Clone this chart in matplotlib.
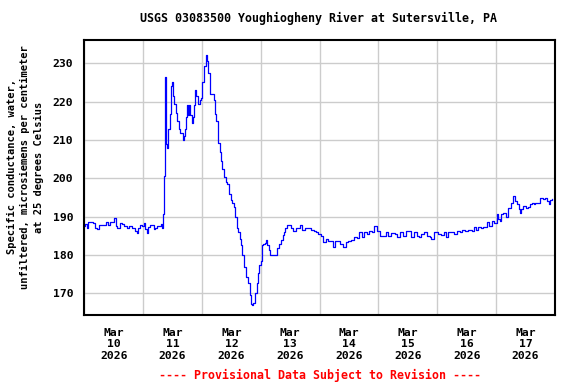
import numpy as np
import pandas as pd
import matplotlib
matplotlib.use('Agg')
import matplotlib.pyplot as plt
import matplotlib.dates as mdates

# days since 2026-03-10 00:00
days = [0.000, 0.012, 0.040, 0.070, 0.097, 0.140, 0.183, 0.211, 0.250, 0.296,
        0.330, 0.370, 0.400, 0.439, 0.480, 0.512, 0.540, 0.563, 0.600, 0.638,
        0.680, 0.723, 0.760, 0.809, 0.840, 0.865, 0.894, 0.920, 0.951, 0.980,
        1.007, 1.036, 1.065, 1.090, 1.110, 1.150, 1.177, 1.206, 1.240, 1.280,
        1.303, 1.321, 1.338, 1.348, 1.365, 1.382, 1.394, 1.406, 1.417, 1.440,
        1.451, 1.468, 1.485, 1.508, 1.531, 1.555, 1.576, 1.605, 1.633, 1.672,
        1.690, 1.706, 1.725, 1.741, 1.760, 1.781, 1.800, 1.826, 1.850, 1.872,
        1.889, 1.900, 1.920, 1.940, 1.960, 1.980, 1.997, 2.037, 2.065, 2.085,
        2.105, 2.133, 2.170, 2.201, 2.213, 2.240, 2.270, 2.300, 2.316, 2.333,
        2.372, 2.406, 2.430, 2.457, 2.486, 2.515, 2.543, 2.560, 2.589, 2.615,
        2.640, 2.657, 2.679, 2.713, 2.747, 2.776, 2.811, 2.833, 2.857, 2.874,
        2.901, 2.930, 2.952, 2.976, 3.000, 3.020, 3.044, 3.070, 3.089, 3.110,
        3.135, 3.157, 3.200, 3.237, 3.283, 3.317, 3.340, 3.369, 3.390, 3.413,
        3.437, 3.488, 3.515, 3.544, 3.600, 3.659, 3.700, 3.750, 3.795, 3.852,
        3.900, 3.937, 3.980, 4.022, 4.051, 4.100, 4.136, 4.193, 4.222, 4.260,
        4.307, 4.350, 4.392, 4.440, 4.478, 4.530, 4.591, 4.630, 4.676, 4.720,
        4.760, 4.800, 4.847, 4.890, 4.932, 4.980, 5.030, 5.075, 5.120, 5.170,
        5.220, 5.273, 5.320, 5.370, 5.420, 5.460, 5.502, 5.550, 5.600, 5.650,
        5.690, 5.729, 5.780, 5.830, 5.870, 5.899, 5.950, 6.014, 6.060, 6.110,
        6.150, 6.184, 6.230, 6.280, 6.330, 6.380, 6.420, 6.468, 6.520, 6.582,
        6.620, 6.660, 6.700, 6.740, 6.782, 6.810, 6.838, 6.880, 6.923, 6.960,
        7.009, 7.040, 7.065, 7.090, 7.123, 7.160, 7.208, 7.250, 7.294, 7.320,
        7.350, 7.380, 7.406, 7.430, 7.464, 7.500, 7.540, 7.570, 7.606, 7.640,
        7.662, 7.700, 7.740, 7.790, 7.833, 7.860, 7.891, 7.920, 7.947]
cond = [187.5, 188.0, 187.0, 188.5, 188.7, 188.3, 187.1, 186.7, 187.8, 187.8,
        187.8, 188.5, 187.8, 188.7, 188.7, 189.7, 187.5, 187.1, 188.4, 188.1,
        187.5, 187.1, 187.5, 187.1, 187.0, 186.3, 185.8, 187.1, 187.8, 187.5,
        188.4, 186.7, 185.8, 187.3, 187.8, 187.8, 186.7, 187.1, 187.6, 187.5,
        188.1, 187.1, 190.6, 200.7, 226.3, 220.0, 209.0, 208.0, 213.0, 213.0,
        216.9, 224.0, 225.0, 221.5, 219.5, 217.0, 215.0, 213.0, 211.7, 210.0,
        211.0, 213.0, 216.0, 219.0, 216.5, 219.0, 216.5, 214.5, 216.0, 219.0,
        223.0, 221.5, 221.5, 219.5, 220.5, 221.0, 225.0, 229.4, 232.2, 230.5,
        227.6, 221.9, 221.9, 220.5, 216.9, 215.0, 209.3, 207.0, 204.6, 202.4,
        200.4, 199.1, 198.5, 196.0, 194.3, 193.5, 192.6, 190.0, 187.0, 186.0,
        184.3, 182.6, 180.0, 176.9, 174.3, 172.6, 169.5, 167.3, 166.9, 167.6,
        170.0, 172.6, 175.2, 177.3, 178.5, 182.6, 183.0, 183.2, 184.0, 182.6,
        181.3, 180.0, 180.0, 180.0, 181.8, 183.0, 184.0, 185.2, 186.0, 187.0,
        187.8, 187.8, 187.0, 186.2, 187.0, 187.8, 186.6, 187.0, 187.0, 186.6,
        186.3, 185.9, 185.6, 185.0, 183.3, 184.2, 183.8, 183.8, 182.0, 183.8,
        183.7, 183.0, 182.0, 183.3, 183.7, 184.0, 184.6, 184.5, 185.9, 184.6,
        185.9, 185.5, 186.3, 186.0, 187.7, 186.3, 185.0, 185.0, 186.0, 185.0,
        185.8, 185.5, 184.6, 186.0, 185.0, 186.3, 186.3, 184.8, 186.0, 185.0,
        184.8, 185.5, 186.0, 185.0, 184.6, 184.2, 186.0, 185.5, 185.2, 185.9,
        184.6, 185.9, 186.0, 185.5, 186.3, 186.0, 186.5, 186.3, 186.6, 186.3,
        187.2, 186.6, 187.2, 187.0, 187.2, 187.2, 188.5, 187.5, 189.0, 188.4,
        190.7, 189.5, 188.8, 190.7, 191.1, 190.0, 192.4, 193.5, 195.5, 194.2,
        193.3, 192.0, 191.1, 192.0, 192.9, 192.4, 192.6, 193.3, 193.7, 193.3,
        193.7, 193.5, 194.9, 194.5, 194.9, 194.0, 193.2, 194.3, 194.6]

start = pd.Timestamp('2026-03-10')
times = [start + pd.Timedelta(days=d) for d in days]

day_ticks = pd.date_range('2026-03-10', periods=9, freq='D')
label_ticks = pd.date_range('2026-03-10 12:00', periods=8, freq='D')
tick_labels = ['Mar\n%d\n2026' % t.day for t in label_ticks]
y_ticks = [170, 180, 190, 200, 210, 220, 230]

font = {'family': 'DejaVu Sans Mono', 'weight': 'bold', 'size': 8.4}
ylab_font = dict(font, size=7.5)

fig = plt.figure(figsize=(5.76, 3.84), dpi=100)
ax = fig.add_axes([0.1464, 0.1789, 0.8171, 0.7182])

ax.plot(times, cond, color='#0000ff', lw=0.9, drawstyle='steps-post')

ax.set_xlim(day_ticks[0], day_ticks[-1])
ax.set_ylim(164.3, 236.2)

ax.set_xticks(day_ticks, minor=True)
ax.set_xticks(label_ticks)
ax.set_xticklabels(tick_labels, fontdict=dict(font, size=8.2), linespacing=1.2)
ax.set_yticks(y_ticks)
ax.set_yticklabels([str(v) for v in y_ticks], fontdict=dict(font, size=8.2))

ax.grid(False)
ax.grid(which='minor', axis='x', color='#cccccc', lw=1)
ax.grid(which='major', axis='y', color='#cccccc', lw=1)
ax.tick_params(which='both', length=0)
ax.tick_params(axis='x', pad=9)
ax.tick_params(axis='y', pad=8)
for s in ax.spines.values():
    s.set_linewidth(1.5)

fig.text(0.553, 0.951, 'USGS 03083500 Youghiogheny River at Sutersville, PA',
         ha='center', va='center', **font)
fig.text(0.044, 1 - 167 / 384,
         'Specific conductance, water,\nunfiltered, microsiemens per centimeter\nat 25 degrees Celsius',
         rotation=90, ha='center', va='center', multialignment='center',
         linespacing=1.45, **ylab_font)
fig.text(0.555, 1 - 375 / 384, '---- Provisional Data Subject to Revision ----',
         ha='center', va='center', color='red', **font)

fig.savefig('out.png', dpi=100)
